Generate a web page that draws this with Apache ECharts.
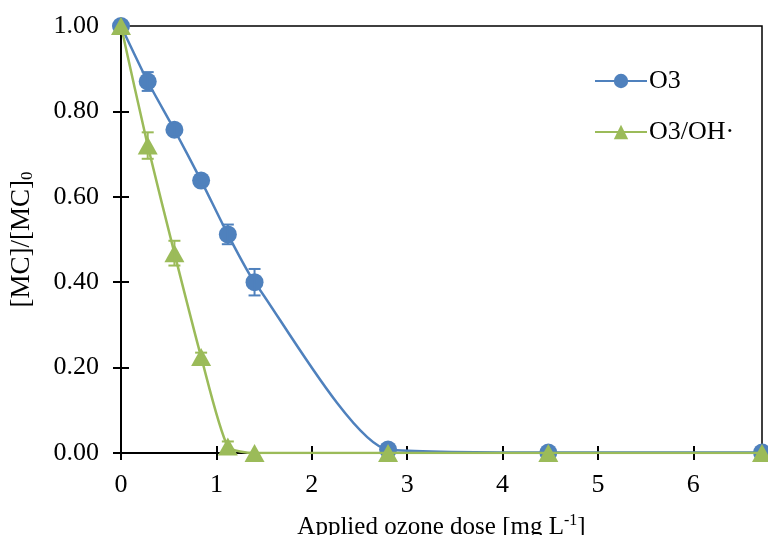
<!DOCTYPE html>
<html>
<head>
<meta charset="utf-8">
<script src="https://cdn.jsdelivr.net/npm/echarts@6/dist/echarts.min.js"></script>
<style>
html,body{margin:0;padding:0;background:#fff;}
#chart{width:768px;height:535px;}
</style>
</head>
<body>
<div id="chart"></div>
<script>

/* ---------- data ---------- */

const doses=[0,0.28,0.56,0.84,1.12,1.4,2.8,4.48,6.72];

const o3=[1.00,0.87,0.757,0.638,0.512,0.40,0.008,0.001,0.001];
const o3Err=[0,0.022,0.012,0.010,0.023,0.031,0,0,0];

const oh=[1.00,0.72,0.468,0.225,0.015,0,0,0,0];
const ohErr=[0,0.031,0.029,0.010,0.012,0,0,0,0];

const BLUE="#4F81BD";
const GREEN="#9BBB59";
const FONT="Liberation Serif";


/* ---------- helpers ---------- */

function pairs(ys){
return doses.map((x,i)=>[x,ys[i]]);
}

function errData(ys,errs){
return doses.map((x,i)=>[x,ys[i],errs[i]]).filter(d=>d[2]>0);
}

function errBars(color){
return function(params,api){
let x=api.value(0),y=api.value(1),e=api.value(2);
let hi=api.coord([x,y+e]);
let lo=api.coord([x,y-e]);
let w=6;
let st={stroke:color,lineWidth:2};
return {
type:"group",
children:[
{type:"line",shape:{x1:hi[0],y1:hi[1],x2:lo[0],y2:lo[1]},style:st},
{type:"line",shape:{x1:hi[0]-w,y1:hi[1],x2:hi[0]+w,y2:hi[1]},style:st},
{type:"line",shape:{x1:lo[0]-w,y1:lo[1],x2:lo[0]+w,y2:lo[1]},style:st}
]
};
};
}


/* ---------- chart ---------- */

let chart=echarts.init(document.getElementById("chart"));

const xBase={
type:"value",
min:0,
max:6.72,
interval:1,
position:"bottom",
splitLine:{show:false},
axisLine:{onZero:false,lineStyle:{color:"#000",width:2}}
};

const yBase={
type:"value",
min:0,
max:1,
interval:0.2,
position:"left",
splitLine:{show:false},
axisLine:{onZero:false,lineStyle:{color:"#000",width:2}}
};

chart.setOption({

animation:false,

grid:{
left:121,
right:6,
top:26,
bottom:82,
containLabel:false,
outerBoundsMode:"none",
show:true,
borderColor:"#000",
borderWidth:1.5,
backgroundColor:"transparent"
},

legend:{
orient:"vertical",
left:589,
top:63,
itemWidth:52,
itemHeight:18,
itemGap:25,
textStyle:{fontFamily:FONT,fontSize:26,color:"#000",padding:[0,0,0,-3]},
data:["O3","O3/OH·"]
},

xAxis:[
Object.assign({},xBase,{
name:"Applied ozone dose [mg L{sup|-1}]",
nameLocation:"middle",
nameGap:60,
nameTextStyle:{
fontFamily:FONT,fontSize:25,color:"#000",
rich:{sup:{fontFamily:FONT,fontSize:16,color:"#000",verticalAlign:"top",padding:[0,0,12,0]}}
},
axisTick:{inside:false,length:7,lineStyle:{color:"#000",width:2}},
axisLabel:{
fontFamily:FONT,fontSize:26,color:"#000",margin:19,
formatter:v=>Number.isInteger(v)?String(v):""
}
}),
Object.assign({},xBase,{
axisTick:{inside:true,length:7,lineStyle:{color:"#000",width:2}},
axisLabel:{show:false}
})
],

yAxis:[
Object.assign({},yBase,{
name:"[MC]/[MC]{sub|0}",
nameLocation:"middle",
nameGap:85,
nameRotate:90,
nameTextStyle:{
fontFamily:FONT,fontSize:27,color:"#000",
rich:{sub:{fontFamily:FONT,fontSize:17,color:"#000",verticalAlign:"bottom",padding:[12,0,0,0]}}
},
axisTick:{inside:false,length:8,lineStyle:{color:"#000",width:2}},
axisLabel:{
fontFamily:FONT,fontSize:26,color:"#000",margin:22,
formatter:v=>v.toFixed(2)
}
}),
Object.assign({},yBase,{
axisTick:{inside:true,length:8,lineStyle:{color:"#000",width:2}},
axisLabel:{show:false}
})
],

series:[

{
name:"O3",
type:"line",
data:pairs(o3),
smooth:0.2,
symbol:"circle",
symbolSize:18,
itemStyle:{color:BLUE},
lineStyle:{color:BLUE,width:2.5},
z:3
},

{
type:"custom",
renderItem:errBars(BLUE),
data:errData(o3,o3Err),
z:4,
silent:true
},

{
name:"O3/OH·",
type:"line",
data:pairs(oh),
smooth:0.2,
symbol:"triangle",
symbolSize:[20,18],
itemStyle:{color:GREEN},
lineStyle:{color:GREEN,width:2.5},
z:5
},

{
type:"custom",
renderItem:errBars(GREEN),
data:errData(oh,ohErr),
z:6,
silent:true
}

]

});

</script>
</body>
</html>
